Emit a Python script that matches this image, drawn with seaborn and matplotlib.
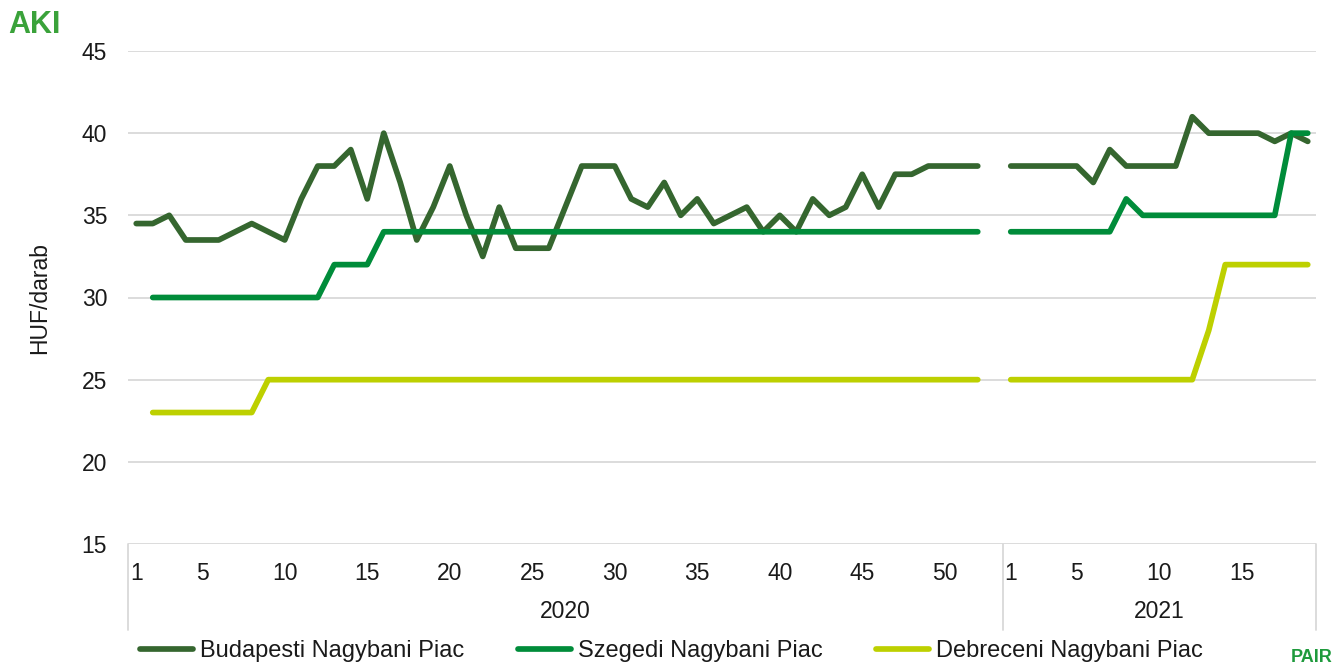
import numpy as np
import pandas as pd
import matplotlib
matplotlib.use("Agg")
import matplotlib.pyplot as plt
import matplotlib.transforms as mtransforms
import seaborn as sns

nan = np.nan

markets = ["Budapesti Nagybani Piac", "Szegedi Nagybani Piac", "Debreceni Nagybani Piac"]
colors = ["#35662f", "#008c3a", "#bdd000"]

weeks_2020 = list(range(1, 54))
weeks_2021 = list(range(1, 20))

budapest_2020 = [34.5, 34.5, 35, 33.5, 33.5, 33.5, 34, 34.5, 34, 33.5,
                 36, 38, 38, 39, 36, 40, 37, 33.5, 35.5, 38,
                 35, 32.5, 35.5, 33, 33, 33, 35.5, 38, 38, 38,
                 36, 35.5, 37, 35, 36, 34.5, 35, 35.5, 34, 35,
                 34, 36, 35, 35.5, 37.5, 35.5, 37.5, 37.5, 38, 38,
                 38, 38, nan]
budapest_2021 = [38, 38, 38, 38, 38, 37, 39, 38, 38, 38,
                 38, 41, 40, 40, 40, 40, 39.5, 40, 39.5]

szeged_2020 = [nan, 30, 30, 30, 30, 30, 30, 30, 30, 30,
               30, 30, 32, 32, 32, 34, 34, 34, 34, 34,
               34, 34, 34, 34, 34, 34, 34, 34, 34, 34,
               34, 34, 34, 34, 34, 34, 34, 34, 34, 34,
               34, 34, 34, 34, 34, 34, 34, 34, 34, 34,
               34, 34, nan]
szeged_2021 = [34, 34, 34, 34, 34, 34, 34, 36, 35, 35,
               35, 35, 35, 35, 35, 35, 35, 40, 40]

debrecen_2020 = [nan, 23, 23, 23, 23, 23, 23, 23, 25, 25,
                 25, 25, 25, 25, 25, 25, 25, 25, 25, 25,
                 25, 25, 25, 25, 25, 25, 25, 25, 25, 25,
                 25, 25, 25, 25, 25, 25, 25, 25, 25, 25,
                 25, 25, 25, 25, 25, 25, 25, 25, 25, 25,
                 25, 25, nan]
debrecen_2021 = [25, 25, 25, 25, 25, 25, 25, 25, 25, 25,
                 25, 25, 28, 32, 32, 32, 32, 32, 32]

tick_weeks = [1, 5, 10, 15, 20, 25, 30, 35, 40, 45, 50]
tick_weeks_2021 = [1, 5, 10, 15]

# long-form table
rows = []
series = {
    markets[0]: (budapest_2020, budapest_2021),
    markets[1]: (szeged_2020, szeged_2021),
    markets[2]: (debrecen_2020, debrecen_2021),
}
for m, (v20, v21) in series.items():
    for i, w in enumerate(weeks_2020):
        rows.append({"pos": i, "year": 2020, "week": w, "market": m, "value": v20[i]})
    for i, w in enumerate(weeks_2021):
        rows.append({"pos": len(weeks_2020) + i, "year": 2021, "week": w, "market": m, "value": v21[i]})
df = pd.DataFrame(rows)

sns.set_theme(style="white")
plt.rcParams["font.family"] = ["Liberation Sans", "DejaVu Sans"]

txt_color = "#1a1a1a"
fs = 16.5

fig = plt.figure(figsize=(13.38, 6.66), dpi=100)
ax = fig.add_axes([128 / 1338, 1 - 544 / 666, (1316 - 128) / 1338, (544 - 51) / 666])

sns.lineplot(data=df, x="pos", y="value", hue="market", units="year", estimator=None,
             palette=colors, hue_order=markets, linewidth=4.1, ax=ax, legend=False,
             solid_capstyle="round")

n = len(weeks_2020) + len(weeks_2021)
ax.set_xlim(-0.5, n - 0.5)
ax.set_ylim(15, 45)
ax.set_yticks([15, 20, 25, 30, 35, 40, 45])
ax.grid(axis="y", color="#d9d9d9", linewidth=1.3)
ax.grid(axis="x", visible=False)
for s in ax.spines.values():
    s.set_visible(False)

xt = [w - 1 for w in tick_weeks] + [len(weeks_2020) + w - 1 for w in tick_weeks_2021]
xl = [str(w) for w in tick_weeks] + [str(w) for w in tick_weeks_2021]
ax.set_xticks(xt)
ax.set_xticklabels(xl)
ax.tick_params(axis="x", length=0, pad=13, labelsize=fs, labelcolor=txt_color)
ax.tick_params(axis="y", length=0, pad=15, labelsize=fs, labelcolor=txt_color)
ax.set_xlabel("")
ax.set_ylabel("HUF/darab", fontsize=fs, color=txt_color, labelpad=22)

# multi-level category axis frame
trans = mtransforms.blended_transform_factory(ax.transData, ax.transAxes)
for xv in [-0.5, len(weeks_2020) - 0.5, n - 0.5]:
    ax.plot([xv, xv], [0, -0.174], transform=trans, color="#d9d9d9", lw=1.3, clip_on=False)
ax.text((len(weeks_2020) - 1) / 2, -0.136, "2020", transform=trans, ha="center", va="center",
        fontsize=fs, color=txt_color)
ax.text(len(weeks_2020) + (len(weeks_2021) - 1) / 2, -0.136, "2021", transform=trans,
        ha="center", va="center", fontsize=fs, color=txt_color)

# legend
handles = [plt.Line2D([], [], color=c, lw=4.1, solid_capstyle="round") for c in colors]
fig.legend(handles, markets, loc="center left", bbox_to_anchor=(140 / 1338, 1 - 651 / 666),
           ncol=3, frameon=False, fontsize=17, handlelength=2.25, handletextpad=0.3,
           columnspacing=2.25, borderpad=0, borderaxespad=0, labelcolor=txt_color)

# logos as text
fig.text(8 / 1338, 1 - 25 / 666, "AKI", fontsize=22, fontweight="bold", color="#3aa23a",
         ha="left", va="center")
fig.text(1333 / 1338, 1 - 657 / 666, "PAIR", fontsize=13, fontweight="bold", color="#1e9a3c",
         ha="right", va="center")

fig.savefig("out.png", dpi=100)
